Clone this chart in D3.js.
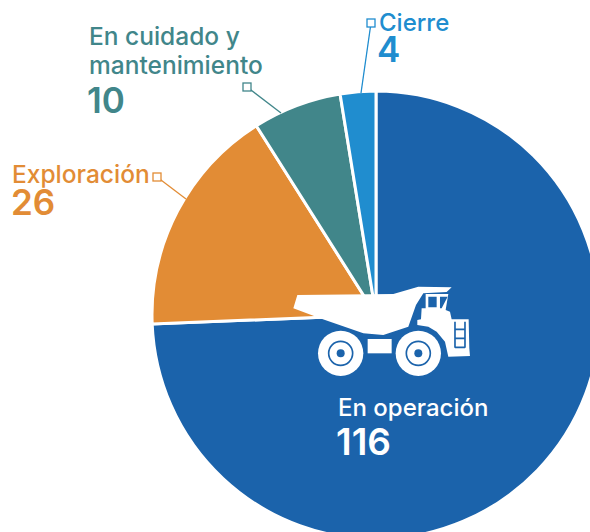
<!DOCTYPE html>
<html>
<head>
<meta charset="utf-8">
<script src="https://cdn.jsdelivr.net/npm/d3@7"></script>
<style>
body { margin:0; background:#fff; overflow:hidden; }
text { font-family:Inter, Roboto, sans-serif; font-weight:500; }
</style>
</head>
<body>
<svg width="590" height="532"></svg>
<script>
var categories = ['En operación','Exploración','En cuidado y mantenimiento','Cierre'];
var values = [116,26,10,4];
var colors = ['#1b63ab','#e28c35','#41868a','#208dcf'];

var svg = d3.select('svg');
var cx = 376, cy = 315, radius = 224;

var pie = d3.pie().sort(null).value(d => d);
var arc = d3.arc().innerRadius(0).outerRadius(radius);

// slices
var g = svg.append('g').attr('transform',`translate(${cx},${cy})`);
g.selectAll('path')
    .data(pie(values))
    .enter().append('path')
    .attr('d',arc)
    .attr('fill',(d,i) => colors[i])
    .attr('stroke','#fff')
    .attr('stroke-width',3);

// leader lines, box end then slice end
var leaders = [
    {c:1, box:[157,177], end:[186,199]},
    {c:2, box:[247,87], end:[281,113]},
    {c:3, box:[371,23], end:[361,93]}
];
leaders.forEach(function(l){
    svg.append('line')
        .attr('x1',l.box[0]).attr('y1',l.box[1])
        .attr('x2',l.end[0]).attr('y2',l.end[1])
        .attr('stroke',colors[l.c])
        .attr('stroke-width',1.3);
    svg.append('rect')
        .attr('x',l.box[0]-4).attr('y',l.box[1]-4)
        .attr('width',8).attr('height',8)
        .attr('fill','#fff')
        .attr('stroke',colors[l.c])
        .attr('stroke-width',1.3);
});

// labels
function label(txt,x,y,size,color,weight){
    svg.append('text')
        .attr('x',x).attr('y',y)
        .attr('font-size',size)
        .style('font-weight',weight||500)
        .attr('fill',color)
        .text(txt);
}
label('En cuidado y',89,45,24.5,colors[2]);
label('mantenimiento',89,74,24.5,colors[2]);
label(values[2],87,113,35,colors[2],600);
label('Exploración',12,183,24.5,colors[1]);
label(values[1],11,215,35,colors[1],600);
label('Cierre',379,31,24,colors[3]);
label(values[3],377,62,35,colors[3],600);
label('En operación',338,416,24,'#fff');
label(values[0],336,455,37,'#fff',600);

// truck icon, drawn in zoomed units
var truck = svg.append('g').attr('transform','translate(280,270) scale(0.3333)');
truck.append('path').attr('fill','#fff')
    .attr('d','M52 75 L340 72 L415 50 L515 52 L500 66 L430 70 L408 105 L385 170 L310 195 L250 190 L120 145 L40 115 Z');
truck.append('path').attr('fill','#fff')
    .attr('d','M437 72 L505 72 L497 120 L510 125 L515 148 L566 148 L568 235 L570 258 L505 260 L495 215 L470 185 L445 170 L412 165 L412 150 L423 148 L425 115 L437 115 Z');
truck.append('path').attr('fill','#1b63ab')
    .attr('d','M445 80 L470 80 L470 112 L445 112 Z M480 80 L503 80 L485 115 L480 115 Z');
truck.append('path').attr('fill','none').attr('stroke','#1b63ab').attr('stroke-width',5)
    .attr('d','M525 155 V233 M555 155 V233 M525 178 H555 M525 205 H555 M525 232 H555');
truck.append('rect').attr('x',263).attr('y',207).attr('width',72).attr('height',43).attr('fill','#fff');
[182,415].forEach(function(x){
    truck.append('circle').attr('cx',x).attr('cy',250).attr('r',68).attr('fill','#fff');
    truck.append('circle').attr('cx',x).attr('cy',250).attr('r',36).attr('fill','none').attr('stroke','#1b63ab').attr('stroke-width',5);
    truck.append('circle').attr('cx',x).attr('cy',250).attr('r',12).attr('fill','#1b63ab');
});
</script>
</body>
</html>
